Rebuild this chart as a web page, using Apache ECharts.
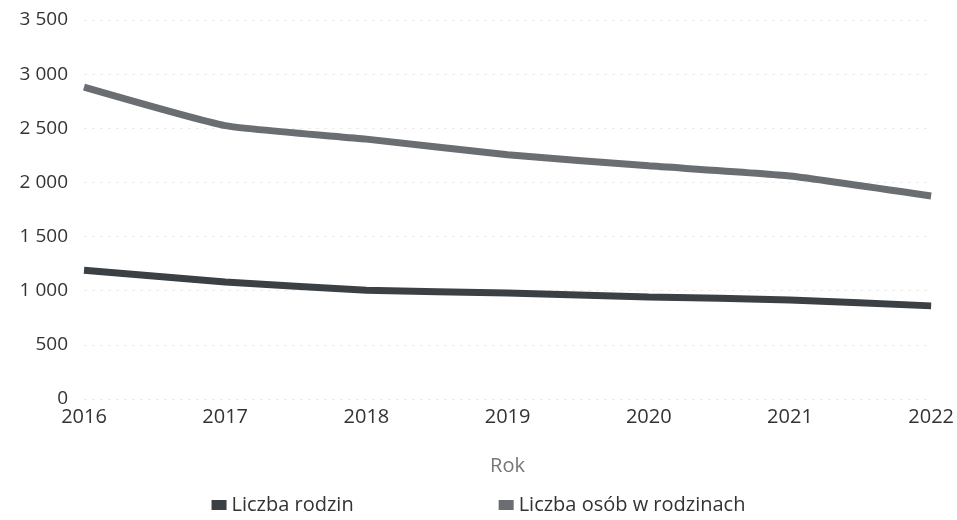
<!DOCTYPE html>
<html>
<head>
<meta charset="utf-8">
<script src="https://cdn.jsdelivr.net/npm/echarts@6/dist/echarts.min.js"></script>
<style>
html,body{margin:0;padding:0;background:#fff;}
#chart{width:957px;height:520px;}
</style>
</head>
<body>
<div id="chart"></div>
<script>
const years = ['2016', '2017', '2018', '2019', '2020', '2021', '2022'];
const rodziny = [1190, 1080, 1005, 978, 943, 915, 860];
const osoby = [2880, 2525, 2400, 2255, 2153, 2060, 1875];
const seriesNames = ['Liczba rodzin', 'Liczba osób w rodzinach'];

function fmt(v) {
  return String(v).replace(/\B(?=(\d{3})+(?!\d))/g, ' ');
}

let chart = echarts.init(document.getElementById('chart'));
let option = {
  animation: false,
  textStyle: { fontFamily: 'Open Sans' },
  grid: { left: 84, right: 25, top: 20, bottom: 121, containLabel: false },
  legend: {
    bottom: 0,
    left: 'center',
    itemGap: 145,
    itemWidth: 15,
    itemHeight: 10,
    icon: 'rect',
    textStyle: { fontSize: 20, color: '#333', fontFamily: 'Open Sans' },
    data: seriesNames
  },
  xAxis: {
    type: 'category',
    data: years,
    boundaryGap: false,
    name: 'Rok',
    nameLocation: 'middle',
    nameGap: 57,
    nameTextStyle: { fontSize: 20, color: '#777' },
    axisLine: { show: false },
    axisTick: { show: false },
    axisLabel: { fontSize: 20, color: '#333', margin: 8 }
  },
  yAxis: {
    type: 'value',
    min: 0,
    max: 3500,
    interval: 500,
    axisLine: { show: false },
    axisTick: { show: false },
    axisLabel: {
      fontSize: 19,
      color: '#333',
      margin: 16,
      formatter: fmt
    },
    splitLine: { lineStyle: { color: '#ededed', type: [3, 5], width: 1 } }
  },
  series: [
    {
      name: seriesNames[0],
      type: 'line',
      data: rodziny,
      showSymbol: false,
      smooth: 0.15,
      color: '#3b4045',
      lineStyle: { width: 7, color: '#3b4045' }
    },
    {
      name: seriesNames[1],
      type: 'line',
      data: osoby,
      showSymbol: false,
      smooth: 0.15,
      color: '#6a6e72',
      lineStyle: { width: 7, color: '#6a6e72' }
    }
  ]
};
chart.setOption(option, true);
window.addEventListener('resize', function () {
  chart.resize();
});
</script>
</body>
</html>
